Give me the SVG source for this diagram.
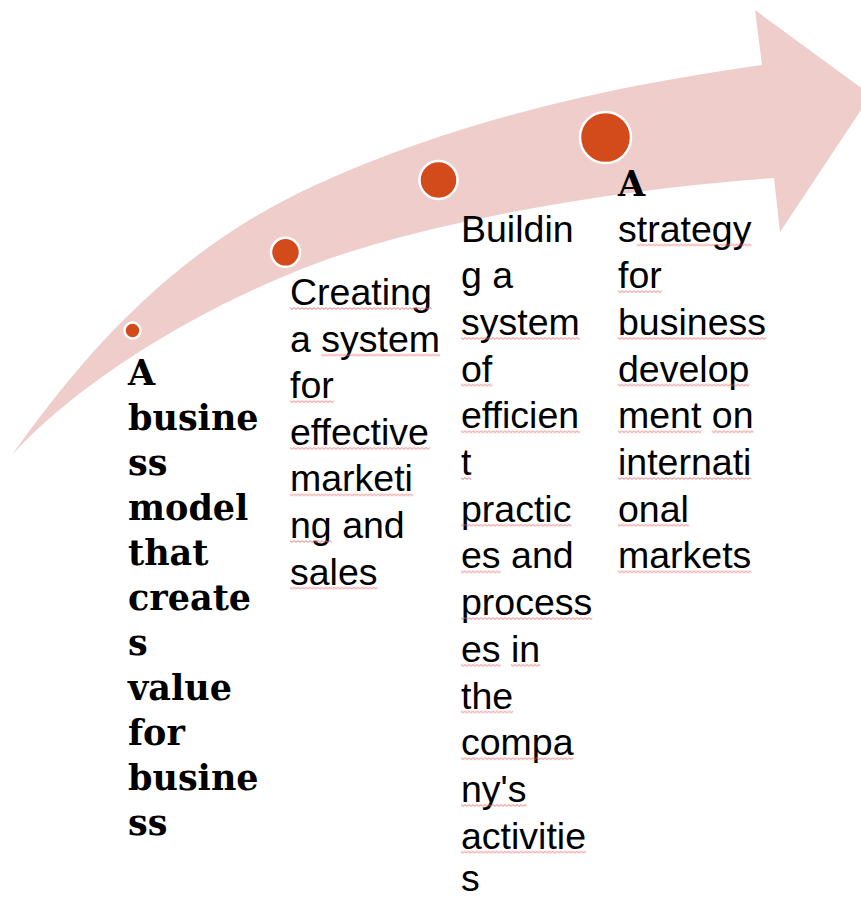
<svg xmlns="http://www.w3.org/2000/svg" width="861" height="901" viewBox="0 0 861 901">
  <defs>
    <!-- spell-check style squiggle, tiled along each flagged word -->
    <pattern id="wave" width="4" height="3" patternUnits="userSpaceOnUse">
      <path d="M0,0.6 L2,2.4 L4,0.6" fill="none" stroke="#E46A6A" stroke-width="0.9"/>
    </pattern>
  </defs>
  <style>
    .band { fill: #EFCDCA; }
    .dot { fill: #D34A1B; stroke: #FFFFFF; stroke-width: 2.5; }
    .slab { font-family: "DejaVu Serif", "Liberation Serif", serif; font-weight: bold; font-size: 35px; fill: #000; }
    .body { font-family: "Liberation Sans", Arial, sans-serif; font-size: 37.5px; fill: #000; }
    .sq { fill: url(#wave); }
  </style>

  <!-- curved progress arrow -->
  <g id="arrow">
    <path class="band" d="M12,455 C80,360 170,250 320,183 S620,85 762,65 L755,10 L871,95 L780,232 L774,178 C600,190 420,225 320,262 S90,370 12,455 Z"/>
  </g>

  <!-- milestone markers along the arrow -->
  <g id="markers">
    <circle class="dot" cx="132.5" cy="330.5" r="8"/>
    <circle class="dot" cx="285.5" cy="252.3" r="14.5"/>
    <circle class="dot" cx="438.5" cy="180" r="19"/>
    <circle class="dot" cx="605.5" cy="137.5" r="25.5"/>
  </g>

  <!-- step 1 -->
  <g id="step1">
    <text class="slab">
      <tspan x="128" y="385">A</tspan>
      <tspan x="128" y="430">busine</tspan>
      <tspan x="128" y="475">ss</tspan>
      <tspan x="128" y="520">model</tspan>
      <tspan x="128" y="565">that</tspan>
      <tspan x="128" y="610">create</tspan>
      <tspan x="128" y="655">s</tspan>
      <tspan x="128" y="700">value</tspan>
      <tspan x="128" y="745">for</tspan>
      <tspan x="128" y="790">busine</tspan>
      <tspan x="128" y="835">ss</tspan>
    </text>
  </g>

  <!-- step 2 -->
  <g id="step2">
    <text class="body">
      <tspan x="290" y="305">Creating</tspan>
      <tspan x="290" y="351.6">a system</tspan>
      <tspan x="290" y="398.2">for</tspan>
      <tspan x="290" y="444.8">effective</tspan>
      <tspan x="290" y="491.4">marketi</tspan>
      <tspan x="290" y="538">ng and</tspan>
      <tspan x="290" y="584.6">sales</tspan>
    </text>
    <g>
      <rect class="sq" transform="translate(290,307)" width="141.7" height="3"/>
      <rect class="sq" transform="translate(321.3,353.6)" width="118.8" height="3"/>
      <rect class="sq" transform="translate(290,400.2)" width="43.8" height="3"/>
      <rect class="sq" transform="translate(290,446.8)" width="139.7" height="3"/>
      <rect class="sq" transform="translate(290,493.4)" width="122.9" height="3"/>
      <rect class="sq" transform="translate(290,540)" width="41.7" height="3"/>
      <rect class="sq" transform="translate(290,586.6)" width="87.5" height="3"/>
    </g>
  </g>

  <!-- step 3 -->
  <g id="step3">
    <text class="body">
      <tspan x="461" y="241.5">Buildin</tspan>
      <tspan x="461" y="288.2">g a</tspan>
      <tspan x="461" y="334.9">system</tspan>
      <tspan x="461" y="381.6">of</tspan>
      <tspan x="461" y="428.3">efficien</tspan>
      <tspan x="461" y="475">t</tspan>
      <tspan x="461" y="521.7">practic</tspan>
      <tspan x="461" y="568.4">es and</tspan>
      <tspan x="461" y="615.1">process</tspan>
      <tspan x="461" y="661.8">es in</tspan>
      <tspan x="461" y="708.5">the</tspan>
      <tspan x="461" y="755.2">compa</tspan>
      <tspan x="461" y="801.9">ny's</tspan>
      <tspan x="461" y="848.6">activitie</tspan>
      <tspan x="461" y="891">s</tspan>
    </text>
    <g>
      <rect class="sq" transform="translate(461,336.9)" width="118.8" height="3"/>
      <rect class="sq" transform="translate(461,383.6)" width="31.3" height="3"/>
      <rect class="sq" transform="translate(461,430.3)" width="118.8" height="3"/>
      <rect class="sq" transform="translate(461,477)" width="10.4" height="3"/>
      <rect class="sq" transform="translate(461,523.7)" width="110.4" height="3"/>
      <rect class="sq" transform="translate(461,570.4)" width="39.6" height="3"/>
      <rect class="sq" transform="translate(461,617.1)" width="131.3" height="3"/>
      <rect class="sq" transform="translate(461,663.8)" width="39.6" height="3"/>
      <rect class="sq" transform="translate(511,663.8)" width="29.2" height="3"/>
      <rect class="sq" transform="translate(461,710.5)" width="52.1" height="3"/>
      <rect class="sq" transform="translate(461,757.2)" width="112.5" height="3"/>
      <rect class="sq" transform="translate(461,803.9)" width="65.5" height="3"/>
      <rect class="sq" transform="translate(461,850.6)" width="125" height="3"/>
    </g>
  </g>

  <!-- step 4 -->
  <g id="step4">
    <text class="slab" x="618" y="196">A</text>
    <text class="body">
      <tspan x="618" y="241.5">strategy</tspan>
      <tspan x="618" y="288.2">for</tspan>
      <tspan x="618" y="334.9">business</tspan>
      <tspan x="618" y="381.6">develop</tspan>
      <tspan x="618" y="428.3">ment on</tspan>
      <tspan x="618" y="475">internati</tspan>
      <tspan x="618" y="521.7">onal</tspan>
      <tspan x="618" y="568.4">markets</tspan>
    </text>
    <g>
      <rect class="sq" transform="translate(636.8,243.5)" width="114.6" height="3"/>
      <rect class="sq" transform="translate(618,290.2)" width="43.8" height="3"/>
      <rect class="sq" transform="translate(618,336.9)" width="148" height="3"/>
      <rect class="sq" transform="translate(618,383.6)" width="131.3" height="3"/>
      <rect class="sq" transform="translate(618,430.3)" width="83.4" height="3"/>
      <rect class="sq" transform="translate(711.8,430.3)" width="41.7" height="3"/>
      <rect class="sq" transform="translate(618,477)" width="133.4" height="3"/>
      <rect class="sq" transform="translate(618,523.7)" width="70.9" height="3"/>
      <rect class="sq" transform="translate(618,570.4)" width="133.4" height="3"/>
    </g>
  </g>
</svg>
